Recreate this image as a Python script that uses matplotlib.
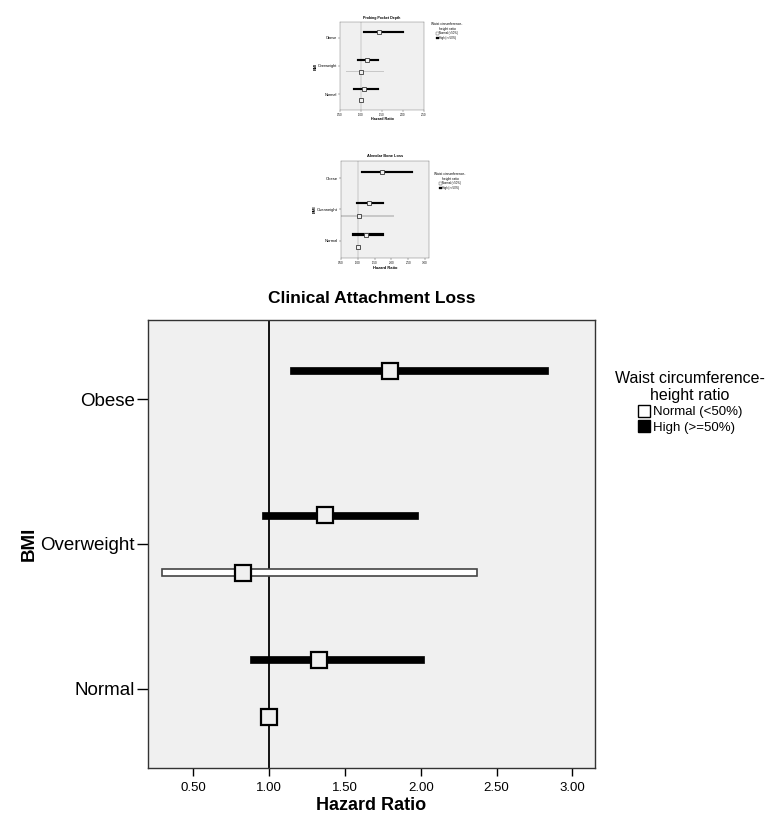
import numpy as np
import matplotlib
matplotlib.use('Agg')
import matplotlib.pyplot as plt
from matplotlib.patches import Patch

plt.rcParams['font.family'] = ['Liberation Sans', 'DejaVu Sans']

nan = np.nan

# BMI groups, bottom to top
categories = ['Normal', 'Overweight', 'Obese']

# Probing Pocket Depth
ppd_high_hr = [1.07, 1.15, 1.44]
ppd_high_lo = [0.82, 0.91, 1.05]
ppd_high_hi = [1.43, 1.42, 2.02]
ppd_norm_hr = [1.00, 1.00, nan]
ppd_norm_lo = [nan, 0.65, nan]
ppd_norm_hi = [nan, 1.55, nan]
ppd_ticks = [0.5, 1.0, 1.5, 2.0, 2.5]

# Alveolar Bone Loss
abl_high_hr = [1.23, 1.33, 1.71]
abl_high_lo = [0.83, 0.96, 1.11]
abl_high_hi = [1.79, 1.78, 2.65]
abl_norm_hr = [1.00, 1.05, nan]
abl_norm_lo = [nan, 0.51, nan]
abl_norm_hi = [nan, 2.09, nan]
abl_ticks = [0.5, 1.0, 1.5, 2.0, 2.5, 3.0]

# Clinical Attachment Loss
cal_high_hr = [1.33, 1.37, 1.80]
cal_high_lo = [0.87, 0.95, 1.14]
cal_high_hi = [2.02, 1.98, 2.84]
cal_norm_hr = [1.00, 0.83, nan]
cal_norm_lo = [nan, 0.29, nan]
cal_norm_hi = [nan, 2.37, nan]
cal_ticks = [0.5, 1.0, 1.5, 2.0, 2.5, 3.0]

bg = '#f0f0f0'
off = 0.2


def panel(ax, title, hhr, hlo, hhi, nhr, nlo, nhi, ticks, xlim, s, small):
    y = np.arange(len(categories))
    ax.set_facecolor(bg)
    ax.axvline(1.0, color='#888888' if small else 'black', lw=1.3 * s, zorder=1)
    hlo = np.array(hlo); hhi = np.array(hhi)
    nlo = np.array(nlo); nhi = np.array(nhi)
    bh = 0.07 if small else 0.048
    ax.barh(y + off, hhi - hlo, left=hlo, height=bh, color='black',
            edgecolor='black', lw=0.5 * s, zorder=2)
    if small:
        ax.barh(y - off, nhi - nlo, left=nlo, height=bh * 0.8, color='#c8c8c8',
                lw=0, zorder=2)
    else:
        ax.barh(y - off, nhi - nlo, left=nlo, height=bh, color='white',
                edgecolor='#444444', lw=1.2, zorder=2)
    ms = 12 if not small else 2.6
    ec = 'black' if not small else '#444444'
    mw = 1.6 * s + (0.3 if small else 0)
    ax.plot(hhr, y + off, 's', ms=ms, mfc=bg, mec=ec, mew=mw, ls='none', zorder=3)
    ax.plot(nhr, y - off, 's', ms=ms, mfc=bg, mec=ec, mew=mw, ls='none', zorder=3)
    ax.set_xlim(*xlim)
    ax.set_ylim(-0.55, 2.55)
    ax.set_yticks(y)
    ax.set_yticklabels(categories, fontsize=13.5 * s)
    ax.set_xticks(ticks)
    ax.set_xticklabels(['%.2f' % t for t in ticks], fontsize=9.5 * s)
    ax.tick_params(axis='y', length=8 * s, width=1 * s, pad=1.5 * s)
    ax.tick_params(axis='x', length=6 * s, width=1 * s, pad=4 * s)
    for sp in ax.spines.values():
        sp.set_linewidth(1 * s)
        sp.set_color('#333333')
    ax.set_title(title, fontsize=12.5 * s, fontweight='bold', pad=12 * s)
    ax.set_xlabel('Hazard Ratio', fontsize=13 * s, fontweight='bold', labelpad=2 * s)
    ax.set_ylabel('BMI', fontsize=13.5 * s, fontweight='bold', labelpad=2 * s)


def legend(fig, x, yy, s):
    handles = [Patch(facecolor='white', edgecolor='black', lw=1 * s),
               Patch(facecolor='black', edgecolor='black', lw=1 * s)]
    leg = fig.legend(handles, ['Normal (<50%)', 'High (>=50%)'],
                     title='Waist circumference-\nheight ratio',
                     loc='upper center', bbox_to_anchor=(x, yy), frameon=False,
                     fontsize=9.5 * s, title_fontsize=11.5 * s,
                     handlelength=0.9, handleheight=1.0, handletextpad=0.2,
                     labelspacing=0.15, borderpad=0)
    leg.get_title().set_multialignment('center')


fig = plt.figure(figsize=(7.68, 8.21), dpi=100)

ax1 = fig.add_axes([340 / 768, 1 - 110 / 821, 84 / 768, 88 / 821])
panel(ax1, 'Probing Pocket Depth', ppd_high_hr, ppd_high_lo, ppd_high_hi,
      ppd_norm_hr, ppd_norm_lo, ppd_norm_hi, ppd_ticks, (0.5, 2.5), 0.21, True)
legend(fig, 447 / 768, 1 - 21 / 821, 0.21)

ax2 = fig.add_axes([341 / 768, 1 - 258 / 821, 88 / 768, 97 / 821])
panel(ax2, 'Alveolar Bone Loss', abl_high_hr, abl_high_lo, abl_high_hi,
      abl_norm_hr, abl_norm_lo, abl_norm_hi, abl_ticks, (0.5, 3.12), 0.22, True)
legend(fig, 450 / 768, 1 - 171 / 821, 0.21)

ax3 = fig.add_axes([148 / 768, 1 - 768 / 821, 447 / 768, 448 / 821])
panel(ax3, 'Clinical Attachment Loss', cal_high_hr, cal_high_lo, cal_high_hi,
      cal_norm_hr, cal_norm_lo, cal_norm_hi, cal_ticks, (0.2, 3.15), 1.0, False)
legend(fig, 690 / 768, 1 - 364 / 821, 1.0)

fig.savefig('out.png', dpi=100)
